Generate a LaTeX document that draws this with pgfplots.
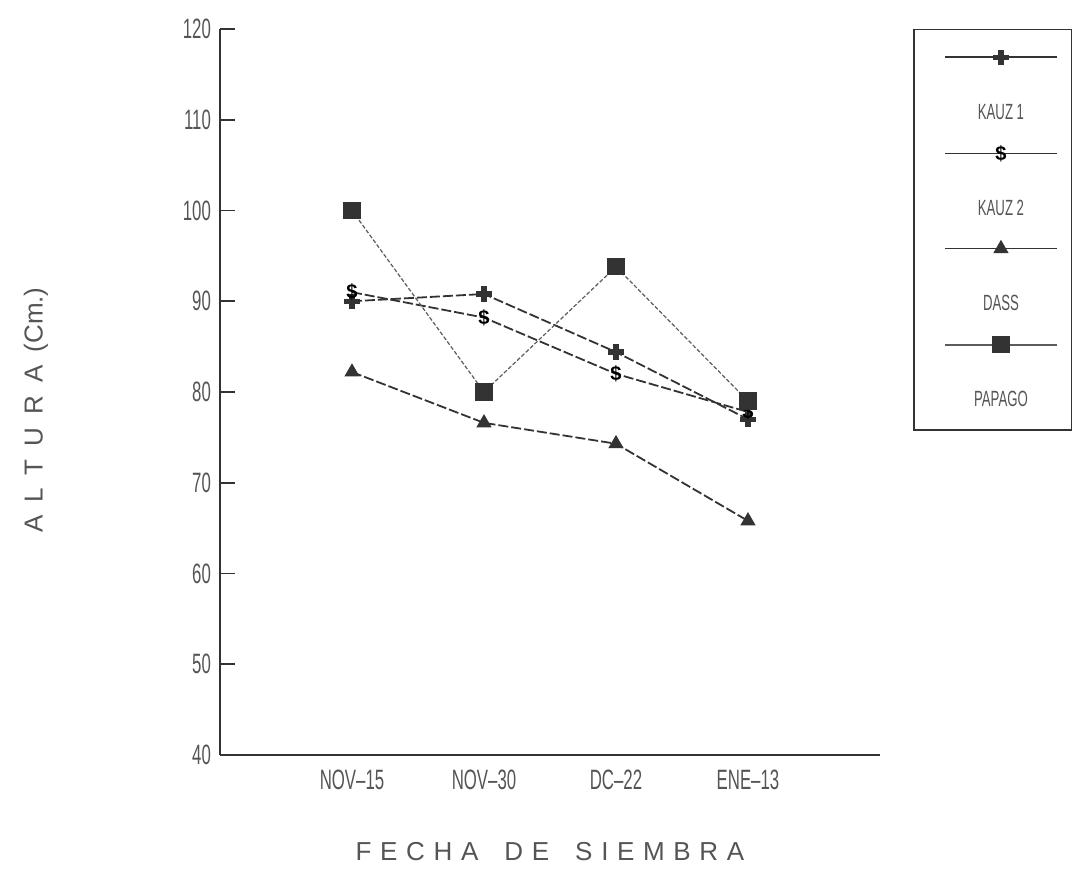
\documentclass[border=0pt]{standalone}
\usepackage{fontspec}
\setmainfont{Liberation Sans}
\newfontfamily\plotfont[FakeStretch=0.6]{Liberation Sans}
\usepackage{pgfplots}
\pgfplotsset{compat=1.18}
\definecolor{txt}{HTML}{555555}
\definecolor{ln}{HTML}{333333}
\pgfplotsset{
  legimg/.style={legend image code/.code={
    \path (-9pt,0pt);
    \draw[##1, solid, line width=0.8pt] (0pt,0pt) -- (56pt,0pt);
    \draw[##1, mark repeat=2, mark phase=2, draw=none] plot coordinates {(0pt,0pt) (28pt,0pt) (56pt,0pt)};
    \node[text=txt, font=\fontsize{11}{11}\plotfont, anchor=center, inner sep=0pt] at (28pt,-28pt) {#1};
  }}
}
\begin{document}
\begin{tikzpicture}
\useasboundingbox (-110pt,-66.5pt) rectangle (426.5pt,377.5pt);
\begin{axis}[
  scale only axis,
  width=330pt, height=363pt,
  xmin=-1, xmax=4, ymin=40, ymax=120,
  axis lines*=left,
  axis line style={line width=0.8pt, color=ln},
  xtick={0,1,2,3},
  xticklabels={NOV\textendash 15,NOV\textendash 30,DC\textendash 22,ENE\textendash 13},
  x tick style={draw=none},
  ytick={40,50,...,120},
  y tick style={line width=0.8pt, color=ln},
  tick align=inside,
  major tick length=7.5pt,
  tick label style={font=\fontsize{14}{14}\plotfont, text=txt},
  /pgf/number format/assume math mode=true,
  xticklabel style={yshift=-4pt},
  yticklabel style={xshift=-1pt},
  xlabel={F\,\,E\,\,C\,\,H\,\,A\quad D\,\,E\quad S\,\,I\,\,E\,\,M\,\,B\,\,R\,\,A},
  xlabel style={font=\fontsize{13}{13}\selectfont, text=txt, at={(0.5,0)}, anchor=center, yshift=-48.5pt},
  ylabel={A\,\,\,L\,\,\,T\,\,\,U\,\,\,R\,\,\,A\,\,\,(Cm.)},
  ylabel style={font=\fontsize{13}{13}\selectfont, text=txt, at={(axis description cs:-0.279,0.475)}, anchor=center},
  clip=false,
  legend style={at={(1.2915,1)}, anchor=north east, draw=ln, line width=0.6pt,
    row sep=11.5pt, inner xsep=6pt, inner ysep=10pt, nodes={inner sep=0pt}},
  legend cell align=left,
]
\addplot[color=ln, line width=0.9pt, dash pattern=on 5pt off 1.5pt,
  mark=+, mark size=3.8pt, mark options={solid, line width=2.6pt}, legimg={KAUZ 1}]
  coordinates {(0,90) (1,90.8) (2,84.4) (3,77)};
\addlegendentry{}
\addplot[color=ln, line width=0.9pt, dash pattern=on 5pt off 1.5pt,
  mark=text, text mark={\fontsize{10}{10}\selectfont\textbf{\$}}, legimg={KAUZ 2}]
  coordinates {(0,91) (1,88.2) (2,82) (3,77.8)};
\addlegendentry{}
\addplot[color=ln, line width=0.9pt, dash pattern=on 5pt off 1.5pt,
  mark=triangle*, mark size=3.5pt, mark options={solid}, legimg={DASS}]
  coordinates {(0,82.2) (1,76.6) (2,74.3) (3,65.8)};
\addlegendentry{}
\addplot[color=ln!80, line width=0.6pt, dash pattern=on 2pt off 1pt,
  mark=square*, mark size=4pt, mark options={solid, fill=ln, draw=ln}, legimg={PAPAGO}]
  coordinates {(0,100) (1,80) (2,93.8) (3,79)};
\addlegendentry{}
\end{axis}
\end{tikzpicture}
\end{document}
